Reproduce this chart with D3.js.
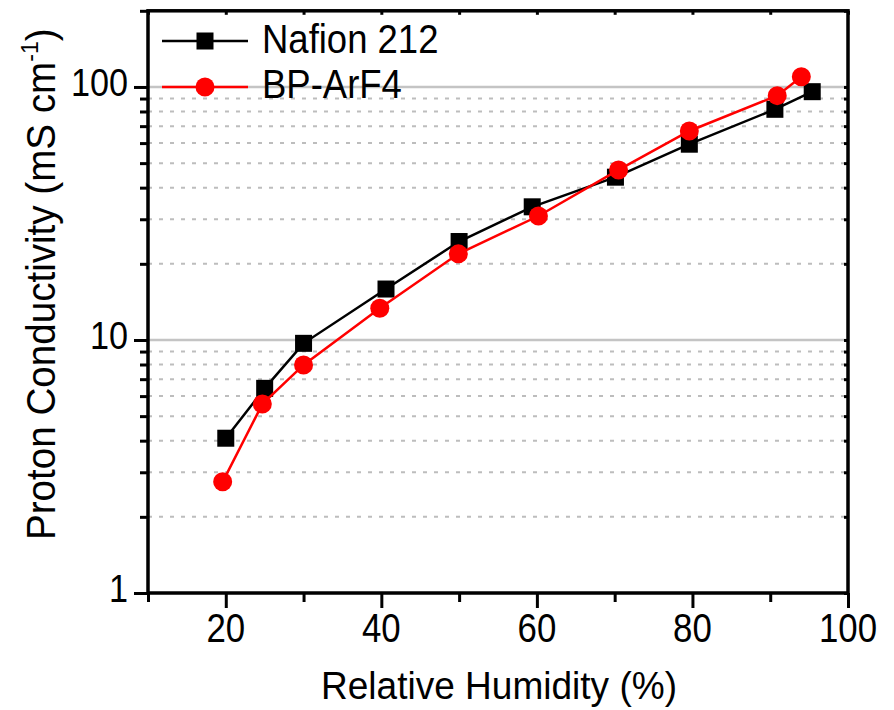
<!DOCTYPE html>
<html>
<head>
<meta charset="utf-8">
<script src="https://cdn.jsdelivr.net/npm/d3@7"></script>
<style>
  html, body { margin: 0; padding: 0; background: #fff; }
  text { font-family: 'Liberation Sans', Arial, sans-serif; fill: #000; }
</style>
</head>
<body>
<div id="chart"></div>
<script>
'use strict';

var rhNafion = [20, 25, 30, 40.6, 50, 59.4, 70.1, 79.6, 90.6, 95.4];
var condNafion = [4.09, 6.44, 9.70, 15.9, 24.5, 33.6, 44.0, 59.4, 81.6, 95.8];

var rhBP = [19.6, 24.7, 30.0, 39.8, 49.9, 60.2, 70.5, 79.6, 90.9, 94.0];
var condBP = [2.75, 5.58, 7.97, 13.35, 21.9, 30.9, 47.0, 67.0, 92.4, 109.8];

var xMajorTicks = [20, 40, 60, 80, 100];
var xMinorTicks = [10, 30, 50, 70, 90];
var yMajorTicks = [1, 10, 100];
var yMinorTicks = [2, 3, 4, 5, 6, 7, 8, 9, 20, 30, 40, 50, 60, 70, 80, 90, 200];

var w = 894, h = 710;
var plotLeft = 148, plotRight = 848, plotTop = 10.8, plotBottom = 593;

var svg = d3.select('#chart').append('svg')
  .attr('width', w)
  .attr('height', h);

var x = d3.scaleLinear().domain([10, 100]).range([plotLeft, plotRight]);
var y = d3.scaleLog().domain([1, 200]).range([plotBottom, plotTop]);

/* Grid lines */

svg.append('g').selectAll('line')
  .data(yMinorTicks.filter(function (d) { return d < 200; }))
  .enter().append('line')
  .attr('x1', plotLeft).attr('x2', plotRight)
  .attr('y1', function (d) { return y(d); })
  .attr('y2', function (d) { return y(d); })
  .style('stroke', '#bdbdbd')
  .style('stroke-width', 2)
  .style('stroke-dasharray', '4,7');

svg.append('g').selectAll('line')
  .data([10, 100])
  .enter().append('line')
  .attr('x1', plotLeft).attr('x2', plotRight)
  .attr('y1', function (d) { return y(d); })
  .attr('y2', function (d) { return y(d); })
  .style('stroke', '#c4c4c4')
  .style('stroke-width', 2.5);

/* Axes */

function styleAxis(g) {
  g.select('.domain').remove();
  g.selectAll('.tick line').style('stroke', '#000').style('stroke-width', 3);
  g.selectAll('.tick text').remove();
}

svg.append('g').attr('transform', 'translate(0,' + plotBottom + ')')
  .call(d3.axisBottom(x).tickValues(xMajorTicks).tickSize(15)).call(styleAxis);
svg.append('g').attr('transform', 'translate(0,' + plotBottom + ')')
  .call(d3.axisBottom(x).tickValues(xMinorTicks).tickSize(9)).call(styleAxis);
svg.append('g').attr('transform', 'translate(0,' + plotTop + ')')
  .call(d3.axisBottom(x).tickValues(xMajorTicks.concat(xMinorTicks)).tickSize(4)).call(styleAxis);

svg.append('g').attr('transform', 'translate(' + plotLeft + ',0)')
  .call(d3.axisLeft(y).tickValues(yMajorTicks).tickSize(14)).call(styleAxis);
svg.append('g').attr('transform', 'translate(' + plotLeft + ',0)')
  .call(d3.axisLeft(y).tickValues(yMinorTicks).tickSize(8)).call(styleAxis);
svg.append('g').attr('transform', 'translate(' + plotRight + ',0)')
  .call(d3.axisLeft(y).tickValues(yMajorTicks.concat(yMinorTicks)).tickSize(4)).call(styleAxis);

/* Frame */

svg.append('rect')
  .attr('x', plotLeft).attr('y', plotTop)
  .attr('width', plotRight - plotLeft).attr('height', plotBottom - plotTop)
  .style('fill', 'none')
  .style('stroke', '#000')
  .style('stroke-width', 3.5);

/* Tick labels */

svg.append('g').selectAll('text')
  .data(xMajorTicks)
  .enter().append('text')
  .attr('transform', function (d) { return 'translate(' + x(d) + ',642) scale(0.87,1)'; })
  .attr('text-anchor', 'middle')
  .attr('font-size', '40px')
  .text(function (d) { return d; });

svg.append('g').selectAll('text')
  .data(yMajorTicks)
  .enter().append('text')
  .attr('transform', function (d) { return 'translate(128,' + (y(d) + 9) + ') scale(0.9,1)'; })
  .attr('text-anchor', 'end')
  .attr('font-size', '38px')
  .text(function (d) { return d; });

/* Axis titles */

svg.append('text')
  .attr('transform', 'translate(499,699) scale(0.95,1)')
  .attr('text-anchor', 'middle')
  .attr('font-size', '39px')
  .text('Relative Humidity (%)');

var yTitle = svg.append('text')
  .attr('transform', 'translate(55,540) rotate(-90) scale(0.965,1)')
  .attr('font-size', '40px');
yTitle.append('tspan').text('Proton Conductivity (mS cm');
yTitle.append('tspan').attr('font-size', '24px').attr('dy', -17).text('-1');
yTitle.append('tspan').attr('dy', 17).text(')');

/* Series */

var nafion = rhNafion.map(function (d, i) { return { x: d, y: condNafion[i] }; });
var bp = rhBP.map(function (d, i) { return { x: d, y: condBP[i] }; });

var line = d3.line()
  .x(function (d) { return x(d.x); })
  .y(function (d) { return y(d.y); });

svg.append('path')
  .datum(nafion)
  .attr('d', line)
  .style('fill', 'none')
  .style('stroke', '#000')
  .style('stroke-width', 2.5);

svg.append('g').selectAll('rect')
  .data(nafion)
  .enter().append('rect')
  .attr('x', function (d) { return x(d.x) - 8.5; })
  .attr('y', function (d) { return y(d.y) - 8.5; })
  .attr('width', 17)
  .attr('height', 17)
  .style('fill', '#000');

svg.append('path')
  .datum(bp)
  .attr('d', line)
  .style('fill', 'none')
  .style('stroke', '#ff0000')
  .style('stroke-width', 2.5);

svg.append('g').selectAll('circle')
  .data(bp)
  .enter().append('circle')
  .attr('cx', function (d) { return x(d.x); })
  .attr('cy', function (d) { return y(d.y); })
  .attr('r', 9.5)
  .style('fill', '#ff0000');

/* Legend */

var legend = svg.append('g');

legend.append('line')
  .attr('x1', 162).attr('x2', 248).attr('y1', 41).attr('y2', 41)
  .style('stroke', '#000').style('stroke-width', 2.5);
legend.append('rect')
  .attr('x', 205 - 8.5).attr('y', 41 - 8.5)
  .attr('width', 17).attr('height', 17)
  .style('fill', '#000');
legend.append('text')
  .attr('transform', 'translate(262,53) scale(0.89,1)')
  .attr('font-size', '41px')
  .text('Nafion 212');

legend.append('line')
  .attr('x1', 162).attr('x2', 248).attr('y1', 87).attr('y2', 87)
  .style('stroke', '#ff0000').style('stroke-width', 2.5);
legend.append('circle')
  .attr('cx', 205).attr('cy', 87).attr('r', 9.5)
  .style('fill', '#ff0000');
legend.append('text')
  .attr('transform', 'translate(262,98) scale(0.89,1)')
  .attr('font-size', '41px')
  .text('BP-ArF4');
</script>
</body>
</html>
